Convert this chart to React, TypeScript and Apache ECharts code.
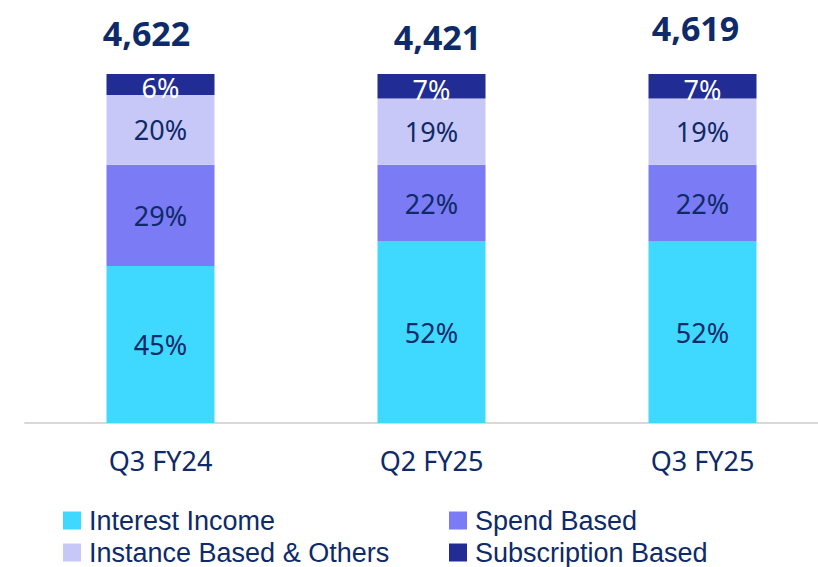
import React, { useEffect, useRef } from "react";
import * as echarts from "echarts";

const categories = ["Q3 FY24", "Q2 FY25", "Q3 FY25"];
const totals = ["4,622", "4,421", "4,619"];
const interestIncome = [45, 52, 52];
const spendBased = [29, 22, 22];
const instanceBased = [20, 19, 19];
const subscriptionBased = [6, 7, 7];
const totalOffsets = [[-14, -2], [6, 2], [-7, -7]];

const NAVY = "#0e2a68";
const FONT = "Noto Sans";
const LEGEND_FONT = "Liberation Sans";

export default function App() {
  const ref = useRef<HTMLDivElement>(null);
  useEffect(() => {
    if (!ref.current) return;
    const chart = echarts.init(ref.current, null, { renderer: "svg" });
    const pctLabel = (color: string) => ({
      show: true,
      position: "inside" as const,
      formatter: (p: any) => `${p.value}%`,
      color,
      fontFamily: FONT,
      fontSize: 27,
    });
    const legendBase = {
      icon: "rect",
      itemWidth: 18,
      itemHeight: 18,
      padding: 0,
      textStyle: { color: NAVY, fontFamily: LEGEND_FONT, fontSize: 27, lineHeight: 24, padding: [0, 0, 0, 3] },
    };
    chart.setOption({
      animation: false,
      grid: { left: 25, top: 74, right: -20, bottom: 144, outerBoundsMode: "none" },
      xAxis: {
        type: "category",
        data: categories,
        axisLine: { show: true, lineStyle: { color: "#d9d9d9", width: 2 } },
        axisTick: { show: false },
        axisLabel: { color: NAVY, fontFamily: FONT, fontSize: 27, margin: 24 },
      },
      yAxis: { type: "value", min: 0, max: 100, show: false, splitLine: { show: false } },
      legend: [
        { ...legendBase, left: 63, top: 507, data: ["Interest Income"] },
        { ...legendBase, left: 449, top: 507, data: ["Spend Based"] },
        { ...legendBase, left: 63, top: 539, data: ["Instance Based & Others"] },
        { ...legendBase, left: 449, top: 539, data: ["Subscription Based"] },
      ],
      series: [
        {
          name: "Interest Income",
          type: "bar",
          stack: "t",
          barWidth: 108,
          data: interestIncome,
          itemStyle: { color: "#3fd9ff" },
          label: pctLabel(NAVY),
        },
        {
          name: "Spend Based",
          type: "bar",
          stack: "t",
          barWidth: 108,
          data: spendBased,
          itemStyle: { color: "#7b7bf5" },
          label: pctLabel(NAVY),
        },
        {
          name: "Instance Based & Others",
          type: "bar",
          stack: "t",
          barWidth: 108,
          data: instanceBased,
          itemStyle: { color: "#c8c8f8" },
          label: pctLabel(NAVY),
        },
        {
          name: "Subscription Based",
          type: "bar",
          stack: "t",
          barWidth: 108,
          data: subscriptionBased.map((v) => ({
            value: v,
            label: { offset: [0, 3] },
          })),
          itemStyle: { color: "#212d94" },
          label: pctLabel("#ffffff"),
        },
        {
          name: "totals",
          type: "bar",
          stack: "t",
          barWidth: 108,
          data: totals.map((t, i) => ({
            value: 0,
            label: { offset: totalOffsets[i] },
          })),
          itemStyle: { color: "transparent" },
          label: {
            show: true,
            position: "top",
            distance: 22,
            formatter: (p: any) => totals[p.dataIndex],
            color: NAVY,
            fontFamily: FONT,
            fontWeight: "bold",
            fontSize: 34,
          },
        },
      ],
    });
    return () => chart.dispose();
  }, []);
  return <div ref={ref} style={{ width: 818, height: 567, position: "absolute", left: 0, top: 0 }} />;
}
